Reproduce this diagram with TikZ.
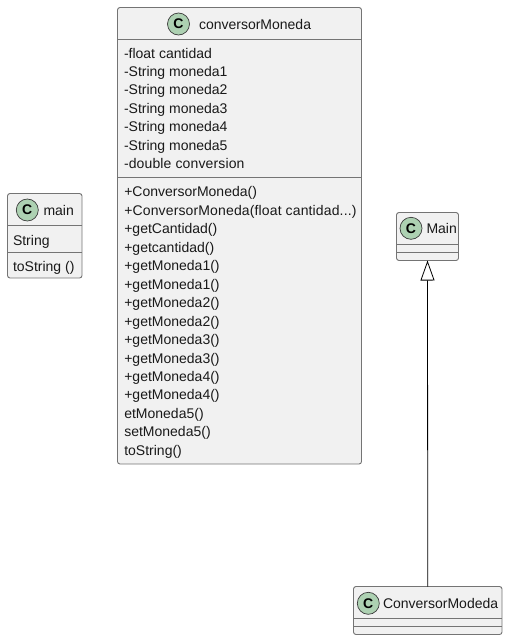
\documentclass[tikz,border=0pt]{standalone}
\usepackage{fontspec}
\setmainfont{Liberation Sans}
\usetikzlibrary{arrows.meta}
\definecolor{boxfill}{HTML}{F1F1F1}
\definecolor{boxline}{HTML}{181818}
\definecolor{spotfill}{HTML}{ADD1B2}
\newcommand{\threedots}{.{}.{}.}
\newcommand{\wider}{\addfontfeature{LetterSpace=1}}
\tikzset{
  classbox/.style={draw=boxline!60!white, fill=boxfill, line width=0.9pt, rounded corners=2.5pt, inner sep=0pt, outer sep=0pt},
  divider/.style={draw=boxline!60!white, line width=0.9pt},
  spot/.style={circle, draw=boxline!85!white, fill=spotfill, line width=0.7pt, minimum size=22pt, inner sep=0pt, font=\fontsize{14}{14}\selectfont\bfseries},
  title/.style={anchor=base west, inner sep=0pt, outer sep=0pt, font=\fontsize{14}{14}\selectfont, text=black!90},
  member/.style={anchor=base west, inner sep=0pt, outer sep=0pt, font=\fontsize{14}{14}\selectfont, text=black!90},
  inherit/.style={draw=black, line width=0.8pt, -{Triangle[open, fill=white, length=20pt, width=14pt, line width=0.8pt]}}
}
\begin{document}
\begin{tikzpicture}[x=1pt,y=-1pt]
\useasboundingbox (0,0) rectangle (508,640);
% conversorMoneda
\node[classbox, minimum width=244pt, minimum height=456.5pt] (cm) at (239.5,235.75) {};
\draw[divider] (117.5,39.5) -- (361.5,39.5);
\draw[divider] (117.5,177.5) -- (361.5,177.5);
\node[spot] (cmspot) at (178.5,24) {C};
\node[title] (cmtitle) at (199,29) {conversorMoneda};
\foreach \t [count=\i from 0] in {-float cantidad,-String moneda1,-String moneda2,-String moneda3,-String moneda4,-String moneda5,{\wider -double conversion}}
  \node[member] (f\i) at (124,58+18.4*\i) {\t};
\foreach \t [count=\i from 0] in {+ConversorMoneda(),{\wider +ConversorMoneda(float cantidad\threedots)},+getCantidad(),+getcantidad(),+getMoneda1(),+getMoneda1(),+getMoneda2(),+getMoneda2(),+getMoneda3(),+getMoneda3(),+getMoneda4(),+getMoneda4(),etMoneda5(),setMoneda5(),toString()}
  \node[member] (m\i) at (124.3,196.8+18.47*\i) {\t};
% main
\node[classbox, minimum width=74.5pt, minimum height=84.5pt] (lm) at (44.75,235.75) {};
\draw[divider] (7.5,225.5) -- (82,225.5);
\draw[divider] (7.5,252.5) -- (82,252.5);
\node[spot] (lmspot) at (27.3,210) {C};
\node[title] (lmtitle) at (43.5,215) {main};
\node[member] (lmf) at (13,245) {String};
\node[member] (lmm) at (13,271.5) {toString ()};
% Main
\node[classbox, minimum width=62pt, minimum height=48pt] (um) at (427.5,236.5) {};
\draw[divider] (396.5,244.5) -- (458.5,244.5);
\draw[divider] (396.5,252.5) -- (458.5,252.5);
\node[spot] (umspot) at (411,228.3) {C};
\node[title] (umtitle) at (426.5,233.5) {Main};
% ConversorModeda
\node[classbox, minimum width=148.5pt, minimum height=48pt] (cd) at (427.75,610.5) {};
\draw[divider] (353.5,618.5) -- (502,618.5);
\draw[divider] (353.5,626.5) -- (502,626.5);
\node[spot] (cdspot) at (368.3,603.3) {C};
\node[title] (cdtitle) at (383,608.5) {ConversorModeda};
% inheritance
\draw[inherit] (cd.north) -- (um.south);
\end{tikzpicture}
\end{document}
